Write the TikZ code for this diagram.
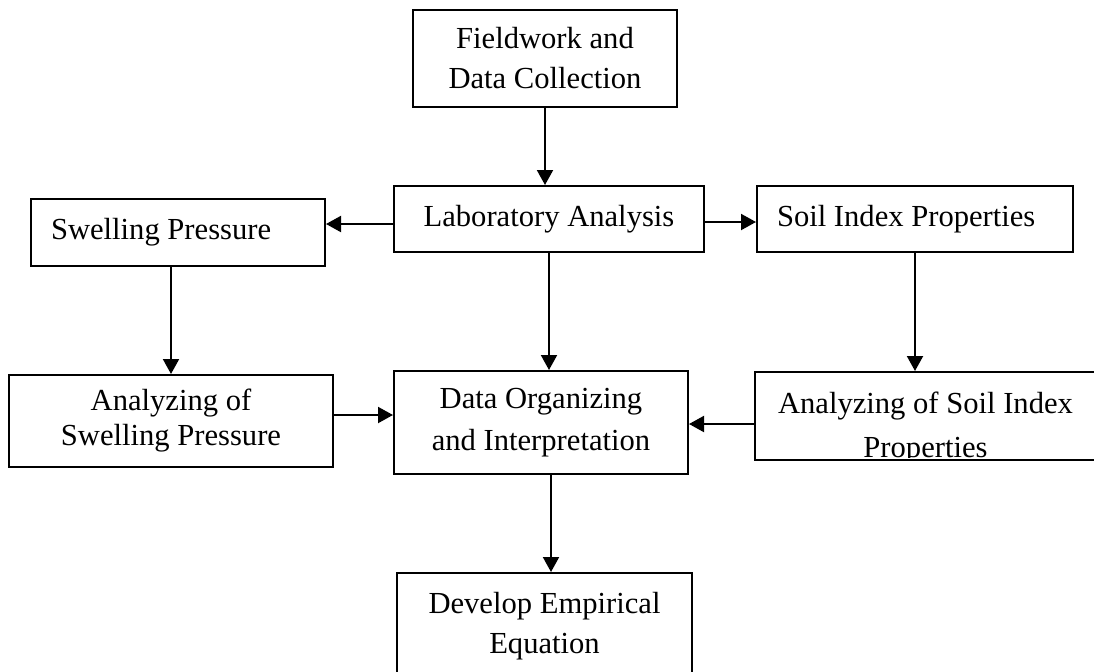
\documentclass[tikz,border=0pt]{standalone}
\usepackage{fontspec}
\setmainfont{Liberation Serif}
\usetikzlibrary{arrows.meta}
\begin{document}
\begin{tikzpicture}[x=0.5pt,y=-0.5pt,
  box/.style={draw,line width=1pt,inner sep=0pt,align=center,font=\fontsize{15.3pt}{20pt}\selectfont},
  leftbox/.style={box,align=flush left,inner xsep=10pt},
  arr/.style={-{Triangle[length=7.5pt,width=8pt]},line width=1pt}]
\clip (0,0) rectangle (1094,671);
\node[box,minimum width=132pt,minimum height=48.5pt] (field) at (545,58.5) {Fieldwork and\\Data Collection};
\node[box,minimum width=155pt,minimum height=33pt] (lab) at (549,219) {Laboratory Analysis};
\node[leftbox,text width=127pt,minimum height=33.5pt] (swell) at (178,232.5) {Swelling Pressure};
\node[leftbox,text width=138pt,minimum height=33pt] (soil) at (915,219) {Soil Index Properties};
\node[box,minimum width=162pt,minimum height=46pt,font=\fontsize{15.3pt}{17.5pt}\selectfont] (asp) at (171,421) {Analyzing of\\Swelling Pressure};
\node[box,minimum width=147pt,minimum height=51.5pt,font=\fontsize{15.3pt}{21pt}\selectfont] (data) at (541,422.5) {Data Organizing\\and Interpretation};
\node[box,minimum width=170.5pt,minimum height=44pt] (asip) at (925.5,416) {};
\begin{scope}
\clip (asip.north west) rectangle ([yshift=2pt]asip.south east);
\node[box,draw=none,font=\fontsize{15.3pt}{22pt}\selectfont] (asiptext) at ([yshift=-6pt]asip.center) {Analyzing of Soil Index\\Properties};
\end{scope}
\node[box,minimum width=147.5pt,minimum height=53pt] (dev) at (544.5,626) {Develop Empirical\\Equation};
\coordinate (labw) at ([yshift=-2.5pt]lab.west);
\coordinate (labe) at ([yshift=-1.5pt]lab.east);
\coordinate (aspe) at ([yshift=3pt]asp.east);
\coordinate (asipw) at ([yshift=-4pt]asip.west);
\coordinate (datas) at ([xshift=5pt]data.south);
\draw[arr] (field.south) -- (field.south |- lab.north);
\draw[arr] (labw) -- (labw -| swell.east);
\draw[arr] (labe) -- (labe -| soil.west);
\draw[arr] (lab.south) -- (lab.south |- data.north);
\draw[arr] (asp.north |- swell.south) -- (asp.north);
\draw[arr] (soil.south) -- (soil.south |- asip.north);
\draw[arr] (aspe) -- (aspe -| data.west);
\draw[arr] (asipw) -- (asipw -| data.east);
\draw[arr] (datas) -- (datas |- dev.north);
\end{tikzpicture}
\end{document}
